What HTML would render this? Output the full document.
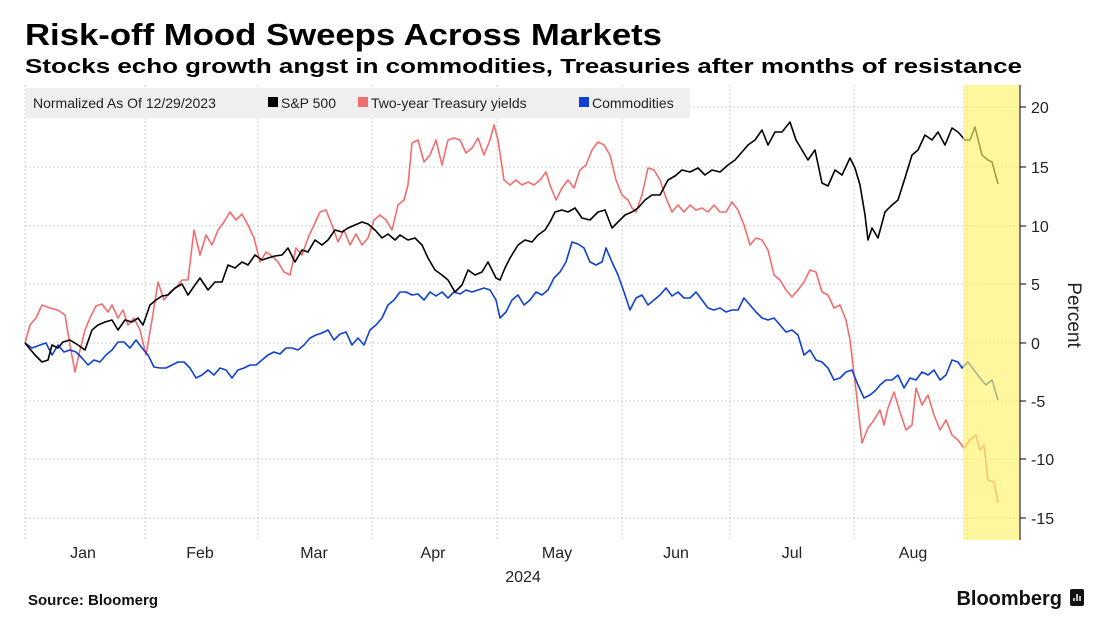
<!DOCTYPE html>
<html><head><meta charset="utf-8"><style>
html,body{margin:0;padding:0;background:#fff;}
svg{display:block;font-family:"Liberation Sans",sans-serif;}
</style></head><body>
<svg width="1097" height="635" viewBox="0 0 1097 635" xmlns="http://www.w3.org/2000/svg">
<text x="25" y="45" font-size="31" font-weight="bold" textLength="637" lengthAdjust="spacingAndGlyphs">Risk-off Mood Sweeps Across Markets</text>
<text x="25" y="73" font-size="20" font-weight="bold" textLength="997" lengthAdjust="spacingAndGlyphs">Stocks echo growth angst in commodities, Treasuries after months of resistance</text>
<g stroke="#ccc" stroke-dasharray="2,2" stroke-width="1">
<line x1="25" y1="107" x2="1020" y2="107"/><line x1="25" y1="167" x2="1020" y2="167"/><line x1="25" y1="226" x2="1020" y2="226"/><line x1="25" y1="284" x2="1020" y2="284"/><line x1="25" y1="343" x2="1020" y2="343"/><line x1="25" y1="401" x2="1020" y2="401"/><line x1="25" y1="459" x2="1020" y2="459"/><line x1="25" y1="518" x2="1020" y2="518"/>
<line x1="25" y1="85" x2="25" y2="540"/><line x1="145" y1="85" x2="145" y2="540"/><line x1="258" y1="85" x2="258" y2="540"/><line x1="372" y1="85" x2="372" y2="540"/><line x1="497" y1="85" x2="497" y2="540"/><line x1="622" y1="85" x2="622" y2="540"/><line x1="730" y1="85" x2="730" y2="540"/><line x1="854" y1="85" x2="854" y2="540"/><line x1="967" y1="85" x2="967" y2="540"/>
</g>
<rect x="25" y="88" width="665" height="30" fill="#efefef"/>
<text x="33" y="108" font-size="14" fill="#222">Normalized As Of 12/29/2023</text>
<rect x="268" y="97" width="10" height="10" fill="#000"/><text x="281" y="108" font-size="14" fill="#222">S&amp;P 500</text>
<rect x="358" y="97" width="10" height="10" fill="#f26d6d"/><text x="371" y="108" font-size="14" fill="#222">Two-year Treasury yields</text>
<rect x="579" y="97" width="10" height="10" fill="#1040d0"/><text x="592" y="108" font-size="14" fill="#222">Commodities</text>
<g fill="none" stroke-width="1.6" stroke-linejoin="round">
<polyline stroke="#f26d6d" points="25,343 30,325 36,318 42,305 50,308 58,310 65,315 70,345 75,372 80,350 85,330 90,318 96,306 102,304 108,312 112,305 118,318 123,310 128,325 134,318 140,330 146,355 152,320 158,282 164,300 170,292 176,288 182,280 188,280 194,230 200,255 206,235 212,245 218,230 224,222 230,212 236,220 242,214 248,225 254,238 260,262 266,252 272,256 278,262 284,272 290,275 296,248 302,255 308,238 314,225 320,212 326,210 332,225 338,242 344,230 350,245 356,234 362,245 368,238 374,220 380,215 386,220 392,230 398,205 404,200 408,185 412,143 418,140 424,162 430,155 436,140 442,165 448,140 454,138 460,140 466,153 472,148 478,138 484,155 490,140 494,125 498,140 504,180 510,185 516,180 522,185 528,182 534,185 540,180 546,172 550,185 556,200 562,188 568,180 574,188 580,170 586,165 592,150 598,142 604,145 610,155 616,180 622,195 628,200 632,208 636,212 642,195 648,168 654,170 660,180 666,198 672,212 678,205 684,212 690,205 696,210 702,208 708,212 714,205 720,212 726,212 732,202 738,210 744,225 750,245 756,238 762,240 768,250 774,275 780,280 786,290 792,297 798,290 804,282 810,270 816,272 822,292 828,295 834,308 840,305 846,320 850,340 856,390 862,443 868,428 874,420 880,410 884,425 888,408 894,392 900,412 906,430 912,425 916,388 922,405 928,395 934,415 940,430 946,420 952,435 958,440 964,448 970,440 976,435 980,450 984,445 988,480 994,482 998,503"/>
<polyline stroke="#1040d0" points="25,343 32,348 40,345 46,343 52,355 58,345 64,352 70,350 76,352 82,358 88,365 94,360 100,362 106,355 112,350 118,342 124,342 130,348 136,340 142,348 148,355 154,367 160,368 166,368 172,365 178,362 184,362 190,368 196,378 202,375 208,370 214,375 220,368 226,370 232,378 238,370 244,368 250,365 256,365 262,360 268,355 274,352 280,354 286,348 292,348 298,350 304,345 310,338 316,335 322,333 328,330 334,340 340,334 346,332 352,345 358,338 364,345 370,330 376,325 382,318 388,305 394,300 400,292 406,292 412,295 418,294 424,300 430,292 436,296 442,292 448,298 454,292 460,294 466,290 472,292 478,290 484,288 490,290 496,300 500,318 506,312 512,300 518,295 524,305 530,300 536,292 542,295 548,290 554,278 560,272 566,262 572,242 578,244 584,248 590,262 596,265 602,262 606,248 612,262 618,275 624,292 630,310 636,298 642,295 648,305 654,300 660,295 666,288 672,296 678,292 684,298 690,298 696,292 702,300 708,308 714,310 720,308 726,312 732,310 738,310 744,298 750,305 756,312 762,318 768,320 774,318 780,325 786,332 792,330 798,335 804,355 810,350 816,360 822,362 828,368 834,380 840,378 846,372 852,370 858,385 864,398 870,395 876,390 880,385 886,380 892,380 898,375 904,388 910,378 916,380 922,372 928,375 934,370 940,380 946,375 952,360 958,362 962,368 968,362 974,370 980,378 986,385 992,380 998,400"/>
<polyline stroke="#000" points="25,343 35,355 42,362 48,360 52,345 58,348 63,342 70,340 78,345 85,350 92,330 98,325 105,322 112,320 118,330 125,320 132,322 138,318 143,325 150,305 156,300 162,296 168,295 175,288 182,284 188,295 195,285 200,278 208,290 215,282 222,282 228,265 235,268 242,262 248,265 255,255 262,260 268,258 275,256 282,255 288,248 295,262 302,250 308,252 315,240 322,245 328,240 335,230 342,232 348,228 355,225 362,222 368,224 375,230 382,238 388,234 395,240 400,235 408,240 415,238 422,245 428,258 435,270 442,275 448,280 455,292 462,285 468,270 475,275 482,272 488,262 492,270 496,278 500,280 505,268 510,258 518,245 525,240 532,242 538,235 545,230 550,222 555,212 562,210 568,212 575,208 582,218 590,220 598,212 605,210 612,228 618,222 625,215 632,212 638,208 645,200 652,195 660,195 668,180 675,176 682,170 690,172 698,168 705,175 712,170 720,172 728,165 735,160 742,152 748,145 755,140 762,130 768,145 775,132 782,132 790,122 796,140 802,150 808,160 815,150 822,183 828,186 835,170 842,175 850,158 855,168 860,185 865,215 868,240 872,228 878,238 885,212 892,205 898,200 905,178 912,155 918,150 925,135 932,140 938,132 945,145 952,128 958,132 965,140 970,140 975,127 982,155 988,160 992,162 998,184"/>
</g>
<rect x="963" y="85" width="57" height="455" fill="#fff26a" opacity="0.65"/>
<line x1="1020" y1="85" x2="1020" y2="540" stroke="#000" stroke-width="1"/>
<g stroke="#000"><line x1="1020" y1="107" x2="1026" y2="107"/><line x1="1020" y1="167" x2="1026" y2="167"/><line x1="1020" y1="226" x2="1026" y2="226"/><line x1="1020" y1="284" x2="1026" y2="284"/><line x1="1020" y1="343" x2="1026" y2="343"/><line x1="1020" y1="401" x2="1026" y2="401"/><line x1="1020" y1="459" x2="1026" y2="459"/><line x1="1020" y1="518" x2="1026" y2="518"/></g>
<g font-size="16" fill="#222">
<text x="1031" y="113">20</text><text x="1031" y="173">15</text><text x="1031" y="232">10</text><text x="1031" y="290">5</text><text x="1031" y="349">0</text><text x="1031" y="407">-5</text><text x="1031" y="465">-10</text><text x="1031" y="524">-15</text>
</g>
<text transform="translate(1068,315) rotate(90)" font-size="19" fill="#222" text-anchor="middle">Percent</text>
<g font-size="16" fill="#222" text-anchor="middle">
<text x="83" y="558">Jan</text><text x="200" y="558">Feb</text><text x="314" y="558">Mar</text><text x="433" y="558">Apr</text><text x="557" y="558">May</text><text x="676" y="558">Jun</text><text x="792" y="558">Jul</text><text x="913" y="558">Aug</text>
<text x="523" y="582">2024</text>
</g>
<text x="28" y="605" font-size="15" font-weight="bold" fill="#111">Source: Bloomerg</text>
<text x="1062" y="605" font-size="20" font-weight="bold" fill="#111" text-anchor="end">Bloomberg</text>
<rect x="1070" y="589" width="14" height="17" rx="2" fill="#111"/>
<g stroke="#fff" stroke-width="1.5"><line x1="1074" y1="601" x2="1074" y2="598"/><line x1="1077" y1="601" x2="1077" y2="594"/><line x1="1080" y1="601" x2="1080" y2="596"/></g>
</svg>
</body></html>
